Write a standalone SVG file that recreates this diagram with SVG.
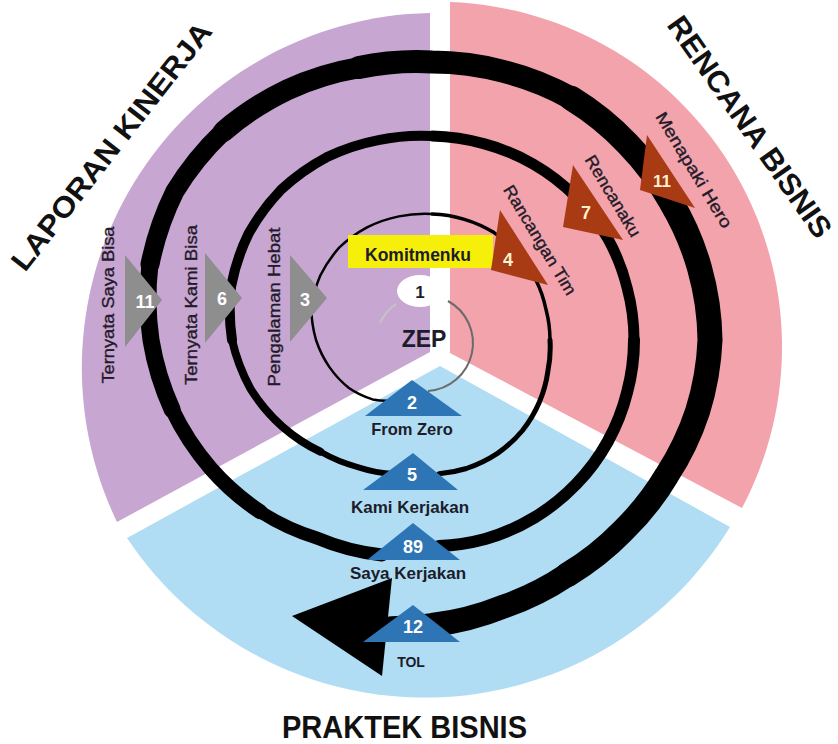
<svg xmlns="http://www.w3.org/2000/svg" width="838" height="744" viewBox="0 0 838 744">
<style>
.ring{fill:none;stroke:#000;stroke-linecap:round;stroke-linejoin:round}
.tri-gray{fill:#8E8E8E}
.tri-red{fill:#A83A14}
.tri-blue{fill:#2E75B6}
.num{font-family:"Liberation Sans",Arial,sans-serif;font-weight:bold;text-anchor:middle;fill:#fff}
.num-red{font-family:"Liberation Sans",Arial,sans-serif;font-weight:bold;text-anchor:middle;fill:#FFF2CC}
.lbl{font-family:"Liberation Sans",Arial,sans-serif;font-weight:bold;text-anchor:middle;fill:#1c1c2a}
.vlbl{font-family:"Liberation Sans",Arial,sans-serif;font-size:17px;text-anchor:middle;fill:#221a28;stroke:#221a28;stroke-width:0.35}
.title{font-family:"Liberation Sans",Arial,sans-serif;font-weight:bold;fill:#111}
</style>
<rect width="838" height="744" fill="#fff"/>
<g id="sectors">
<path id="sector-laporan" d="M430 13 L430 352 L117 522 A355 355 0 0 1 430 13 Z" fill="#C8A6D2"/>
<path id="sector-rencana" d="M450 2 L450 353 L742 508 A345 345 0 0 0 450 2 Z" fill="#F2A3AC"/>
<path id="sector-praktek" d="M440 366 L127 538 A358 358 0 0 0 730 527 Z" fill="#B0DDF3"/>
</g>
<g id="connectors">
<path d="M448 301 A48 48 0 0 1 428 391" fill="none" stroke="#6b6b6b" stroke-width="2"/>
<path d="M380 323 A48 48 0 0 1 396 304" fill="none" stroke="#c4c4c4" stroke-width="2"/>
<path class="ring" stroke-width="2.5" d="M387.9 400.7 A80 80 0 0 1 372.6 399.4 A90 90 0 0 1 348.9 388 A101 101 0 0 1 329.6 367.4 A111 111 0 0 1 316 340 A120 120 0 0 1 311.3 307.6 A127 127 0 0 1 320.3 275.5 A130 130 0 0 1 339.4 247.4 A130 130 0 0 1 367 227.4 A129 129 0 0 1 398.9 216.4 A127 127 0 0 1 432 214"/>
<path class="ring" stroke-width="3.5" d="M432 214 A125 125 0 0 1 464.4 219.3 A124 124 0 0 1 494 232.6 A123 123 0 0 1 518.3 253.7 A121 121 0 0 1 535.9 280 A119 119 0 0 1 546 309.5 A118 118 0 0 1 550 340"/>
<path class="ring" stroke-width="5" d="M550 340 A119 119 0 0 1 547.9 371.1 A122 122 0 0 1 539.4 402 A126 126 0 0 1 522.5 430.5 A129 129 0 0 1 497.5 453.4 A132 132 0 0 1 466.4 468.5 A134 134 0 0 1 439 473.8"/>
<path class="ring" stroke-width="6" d="M394 474 A143 143 0 0 1 358.5 467.3 A152 152 0 0 1 320.3 451.7"/>
<path class="ring" stroke-width="8" d="M320.3 451.7 A165 165 0 0 1 282.2 426.5 A180 180 0 0 1 250.4 388.7 A194 194 0 0 1 232 340"/>
<path class="ring" stroke-width="10" d="M232 340 A204 204 0 0 1 231.1 286.2 A210 210 0 0 1 248.4 234 A212 212 0 0 1 281.4 189.4 A212 212 0 0 1 326.5 157.3 A209 209 0 0 1 378.4 140.1 A205 205 0 0 1 432 136"/>
<path class="ring" stroke-width="11" d="M432 136 A203 203 0 0 1 484.5 143.9 A203 203 0 0 1 533.5 164.2 A203 203 0 0 1 575.5 196.5 A203 203 0 0 1 607.8 238.5 A202 202 0 0 1 627.1 287.7 A202 202 0 0 1 634 340"/>
<path class="ring" stroke-width="12" d="M634 340 A202 202 0 0 1 627.1 392.3 A202 202 0 0 1 607.8 441.5 A203 203 0 0 1 576.2 484.2 A204 204 0 0 1 534.5 517.5 A205 205 0 0 1 485.3 539 A206 206 0 0 1 439 546"/>
<path class="ring" stroke-width="13" d="M382 555 A225 225 0 0 1 317.5 538.3 A236 236 0 0 1 260.2 511.8"/>
<path class="ring" stroke-width="15" d="M260.2 511.8 A250 250 0 0 1 210.3 468 A262 262 0 0 1 172.2 409.6"/>
<path class="ring" stroke-width="17" d="M172.2 409.6 A275 275 0 0 1 151 340 A286 286 0 0 1 150 264.4"/>
<path class="ring" stroke-width="19" d="M150 264.4 A295 295 0 0 1 174.8 191.5 A296 296 0 0 1 223.4 131.4"/>
<path class="ring" stroke-width="21" d="M223.4 131.4 A292 292 0 0 1 287.5 89.7 A285 285 0 0 1 359 67.6"/>
<path class="ring" stroke-width="23" d="M359 67.6 A280 280 0 0 1 432 62 A278 278 0 0 1 503.9 71.5 A278 278 0 0 1 571.5 98.4"/>
<path class="ring" stroke-width="25" d="M571.5 98.4 A278 278 0 0 1 627.9 144.1 A276 276 0 0 1 671 202 A276 276 0 0 1 699.6 268.3 A277 277 0 0 1 710 340 A276 276 0 0 1 697.6 411.2 A273 273 0 0 1 666.7 475.5 A270 270 0 0 1 622.9 530.9 A270 270 0 0 1 567.5 574.7"/>
<path class="ring" stroke-width="24" d="M567.5 574.7 A273 273 0 0 1 503.4 606.6 A280 280 0 0 1 432 625 A288 288 0 0 1 391.5 628.2"/>
<polygon points="292,616 392,578 382,676" fill="#000"/>
</g>
<g id="node-1">
<rect x="348" y="235" width="145" height="33" fill="#F6EF0A"/>
<text class="lbl" x="418" y="261" font-size="17.5">Komitmenku</text>
<ellipse cx="420" cy="291" rx="23" ry="16" fill="#fff"/>
<text class="lbl" x="420" y="298" font-size="17">1</text>
<text class="lbl" x="424" y="347" font-size="23" fill="#1e1428">ZEP</text>
</g>
<g id="node-2">
<polygon class="tri-blue" points="412,380 365,416 462,416"/>
<text class="num" x="412" y="409" font-size="18">2</text>
<text class="lbl" x="412" y="435" font-size="16.5">From Zero</text>
</g>
<g id="node-3">
<polygon class="tri-gray" points="290,255 290,342 327,298"/>
<text class="num" x="305" y="306" font-size="18">3</text>
<text class="vlbl" transform="translate(280,307) rotate(-90)" textLength="159" lengthAdjust="spacingAndGlyphs">Pengalaman Hebat</text>
</g>
<g id="node-4">
<polygon class="tri-red" points="500,210 491,270 548,285"/>
<text class="num-red" x="508" y="266" font-size="18">4</text>
<text class="vlbl" transform="translate(535,243) rotate(59)" textLength="125" lengthAdjust="spacingAndGlyphs">Rancangan Tim</text>
</g>
<g id="node-5">
<polygon class="tri-blue" points="413,453 363,490 458,490"/>
<text class="num" x="412" y="481" font-size="18">5</text>
<text class="lbl" x="410" y="513" font-size="17">Kami Kerjakan</text>
</g>
<g id="node-6">
<polygon class="tri-gray" points="205,253 205,343 242,298"/>
<text class="num" x="222" y="305" font-size="18">6</text>
<text class="vlbl" transform="translate(197,305) rotate(-90)" textLength="160" lengthAdjust="spacingAndGlyphs">Ternyata Kami Bisa</text>
</g>
<g id="node-7">
<polygon class="tri-red" points="573,165 563,227 623,240"/>
<text class="num-red" x="586" y="219" font-size="18">7</text>
<text class="vlbl" transform="translate(608,199) rotate(59)" textLength="92" lengthAdjust="spacingAndGlyphs">Rencanaku</text>
</g>
<g id="node-11-left">
<polygon class="tri-gray" points="125,255 125,347 162,300"/>
<text class="num" x="145" y="308" font-size="18">11</text>
<text class="vlbl" transform="translate(114,305) rotate(-90)" textLength="157" lengthAdjust="spacingAndGlyphs">Ternyata Saya Bisa</text>
</g>
<g id="node-11-right">
<polygon class="tri-red" points="647,135 640,190 695,208"/>
<text class="num-red" x="662" y="187" font-size="17">11</text>
<text class="vlbl" transform="translate(689,173) rotate(59)" textLength="132" lengthAdjust="spacingAndGlyphs">Menapaki Hero</text>
</g>
<g id="node-89">
<polygon class="tri-blue" points="413,523 367,560 460,560"/>
<text class="num" x="413" y="553" font-size="18">89</text>
<text class="lbl" x="408" y="579" font-size="17">Saya Kerjakan</text>
</g>
<g id="node-12">
<polygon class="tri-blue" points="413,605 363,642 460,642"/>
<text class="num" x="413" y="633" font-size="18">12</text>
<text class="lbl" x="411" y="667" font-size="14">TOL</text>
</g>
<g id="titles">
<text class="title" transform="translate(25,273) rotate(-52)" font-size="29" textLength="306" lengthAdjust="spacingAndGlyphs">LAPORAN KINERJA</text>
<text class="title" transform="translate(666,25) rotate(55)" font-size="30" textLength="263" lengthAdjust="spacingAndGlyphs">RENCANA BISNIS</text>
<text class="title" x="282" y="738" font-size="32" textLength="245" lengthAdjust="spacingAndGlyphs">PRAKTEK BISNIS</text>
</g>
</svg>
